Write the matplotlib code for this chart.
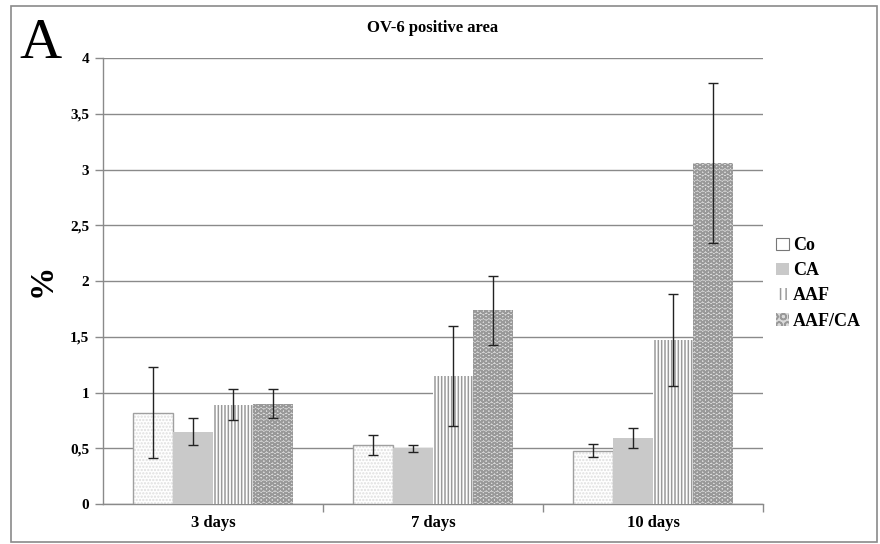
import matplotlib
matplotlib.use("Agg")
import matplotlib.pyplot as plt
import numpy as np
from matplotlib.patches import Rectangle

categories = ["3 days", "7 days", "10 days"]
series = ["Co", "CA", "AAF", "AAF/CA"]
co = [0.82, 0.53, 0.48]
co_err = [0.41, 0.09, 0.06]
ca = [0.65, 0.50, 0.59]
ca_err = [0.12, 0.03, 0.09]
aaf = [0.89, 1.15, 1.47]
aaf_err = [0.14, 0.45, 0.41]
aafca = [0.90, 1.74, 3.06]
aafca_err = [0.13, 0.31, 0.715]
yticks = [0, 0.5, 1, 1.5, 2, 2.5, 3, 3.5, 4]
ytick_labels = ["0", "0,5", "1", "1,5", "2", "2,5", "3", "3,5", "4"]

plt.rcParams['font.family'] = ['Liberation Serif', 'DejaVu Serif']
plt.rcParams['hatch.linewidth'] = 1.1

fig = plt.figure(figsize=(8.8, 5.44), dpi=100)
ax = fig.add_axes([0.117, 0.0735, 0.75, 0.8195])

x = np.arange(len(categories))
w = 0.182
offs = [-1.5, -0.5, 0.5, 1.5]
vals = [co, ca, aaf, aafca]
errs = [co_err, ca_err, aaf_err, aafca_err]
styles = [
    dict(facecolor='white', edgecolor='#dedede', hatch='.....', linewidth=0),
    dict(facecolor='#c9c9c9', edgecolor='#bdbdbd', hatch='', linewidth=0),
    dict(facecolor='white', edgecolor='#9a9a9a', hatch='|||||', linewidth=0),
    dict(facecolor='#dadada', edgecolor='#999999', hatch='OOO', linewidth=0),
]
handles = []
for i, (v, e, st) in enumerate(zip(vals, errs, styles)):
    ax.bar(x + offs[i] * w, v, w, zorder=3, **st)
    if i == 0:
        ax.bar(x + offs[i] * w, v, w, facecolor='none', edgecolor='#a0a0a0',
               linewidth=1, zorder=3)
    ax.errorbar(x + offs[i] * w, v, yerr=e, fmt='none', ecolor='#222222',
                elinewidth=1.0, capsize=3.5, capthick=1.0, zorder=4)
    if i == 0:
        hp = Rectangle((0, 0), 1, 1, facecolor='white', edgecolor='#777777',
                       linewidth=0.8)
    elif i == 2:
        hp = Rectangle((0, 0), 1, 1, facecolor='white', edgecolor='#9a9a9a',
                       hatch='|||', linewidth=0)
    elif i == 3:
        hp = Rectangle((0, 0), 1, 1, facecolor='#dadada', edgecolor='#999999',
                       hatch='OO', linewidth=0)
    else:
        hp = Rectangle((0, 0), 1, 1, **st)
    handles.append(hp)

ax.set_xlim(-0.5, 2.5)
ax.set_ylim(0, 4)
ax.set_yticks(yticks)
ax.set_yticklabels(ytick_labels, fontsize=11, fontweight='bold')
ax.yaxis.grid(True, color='#8a8a8a', linewidth=1.0, zorder=0)
ax.set_axisbelow(True)
ax.set_xticks(x)
ax.set_xticklabels(categories, fontsize=12, fontweight='bold')
ax.tick_params(axis='x', length=0, pad=8)
ax.set_xticks([0.5, 1.5, 2.5], minor=True)
ax.tick_params(axis='x', which='minor', length=6, color='#8a8a8a', width=1)
ax.tick_params(axis='y', length=6, color='#8a8a8a', width=1, pad=4)
for s in ['top', 'right']:
    ax.spines[s].set_visible(False)
for s in ['left', 'bottom']:
    ax.spines[s].set_color('#8a8a8a')
    ax.spines[s].set_linewidth(1.0)

fig.text(0.048, 0.485, "%", ha='center', va='center', fontsize=24,
         fontweight='bold', rotation=90)
fig.text(0.492, 0.948, "OV-6 positive area", ha='center', va='center',
         fontsize=12, fontweight='bold')
fig.text(0.046, 0.893, "A", ha='center', va='baseline', fontsize=42)

ax.legend(handles, series, loc='upper left', bbox_to_anchor=(0.995, 0.635),
          frameon=False, prop=dict(size=13, weight='bold'),
          handlelength=0.7, handleheight=0.7, handletextpad=0.25,
          labelspacing=0.45)

fig.patches.append(Rectangle((0.012, 0.004), 0.985, 0.985, transform=fig.transFigure,
                             fill=False, edgecolor='#8a8a8a', linewidth=1.2))

fig.savefig("out.png", dpi=100)
